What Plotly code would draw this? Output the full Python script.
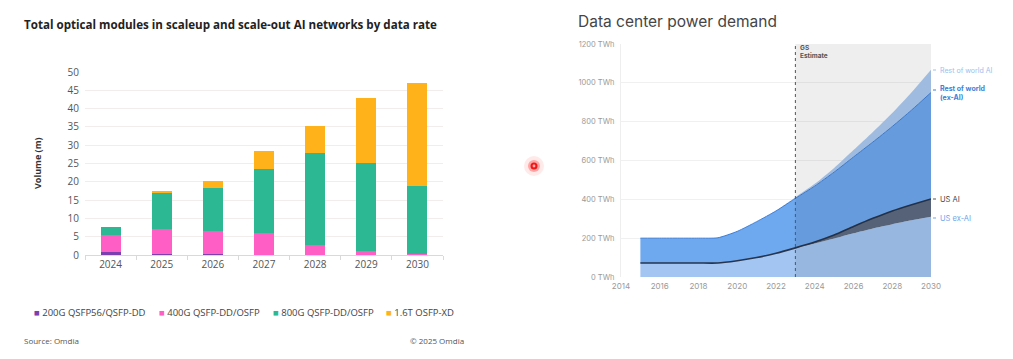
import plotly.graph_objects as go

W, H = 1013, 359
OFF = 8  # page body margin offset in the rendered page

# ---------------- Left chart data ----------------
years_mod = ["2024", "2025", "2026", "2027", "2028", "2029", "2030"]
g200 = [0.7, 0.4, 0.2, 0.1, 0.0, 0.0, 0.0]
g400 = [4.9, 6.6, 6.4, 5.8, 2.7, 1.0, 0.3]
g800 = [2.1, 10.0, 11.8, 17.7, 25.3, 24.2, 18.6]
t16 = [0.0, 0.5, 1.8, 4.9, 7.2, 17.6, 28.0]
mod_names = ["200G QSFP56/QSFP-DD", "400G QSFP-DD/OSFP", "800G QSFP-DD/OSFP", "1.6T OSFP-XD"]
mod_colors = ["#7B3FB0", "#FF5EC4", "#2DB894", "#FFB219"]
left_yticks = [0, 5, 10, 15, 20, 25, 30, 35, 40, 45, 50]

# ---------------- Right chart data ----------------
years_pw = list(range(2015, 2031))
us_exai = [72, 72, 72, 72, 72, 84, 100, 122, 148, 172, 198, 225, 250, 272, 292, 310]
us_ai = [0, 0, 0, 0, 0, 0, 0, 0, 2, 8, 18, 35, 52, 68, 80, 92]
row_exai = [128, 128, 128, 128, 130, 151, 185, 218, 255, 288, 324, 358, 393, 435, 488, 548]
row_ai = [0, 0, 0, 0, 0, 0, 0, 2, 6, 12, 22, 36, 52, 70, 92, 118]
pw_yticks = [0, 200, 400, 600, 800, 1000, 1200]
pw_ylabels = [f"{v} TWh" for v in pw_yticks]
pw_xticks = list(range(2014, 2031, 2))


def px(x):
    return (x - OFF) / W


def py(y):
    return 1 - (y - OFF) / H


fig = go.Figure()

left_font = "Open Sans"
right_font = "Inter"

for vals, name, col in zip([g200, g400, g800, t16], mod_names, mod_colors):
    fig.add_trace(go.Bar(x=years_mod, y=vals, name=name, marker=dict(color=col, line=dict(width=0)),
                         xaxis="x", yaxis="y", showlegend=False))

stack = [
    (us_exai, "US ex-AI", "#A2C5F2", 0, "#A2C5F2"),
    (us_ai, "US AI", "#5C6A80", 1.6, "#26344D"),
    (row_exai, "Rest of world (ex-AI)", "#6EA8EE", 1.0, "#3F7FD6"),
    (row_ai, "Rest of world AI", "#ABCAF0", 0, "#ABCAF0"),
]
for vals, name, fc, lw, lc in stack:
    fig.add_trace(go.Scatter(x=years_pw, y=vals, name=name, stackgroup="pw", mode="lines",
                             line=dict(width=lw, color=lc, shape="spline", smoothing=0.6), fillcolor=fc,
                             xaxis="x2", yaxis="y2", showlegend=False, hoverinfo="skip"))

fig.update_layout(
    width=W, height=H,
    margin=dict(l=0, r=0, t=0, b=0, autoexpand=False),
    paper_bgcolor="white", plot_bgcolor="white",
    barmode="stack", bargap=0.61,
    showlegend=False,
    xaxis=dict(domain=[px(85), px(443)], type="category", range=[-0.5, 6.5], automargin=False,
               showgrid=False, showline=True, linecolor="#D9D9D9", linewidth=1,
               ticks="outside", tickson="boundaries", ticklen=4, tickcolor="#D9D9D9",
               tickfont=dict(family=left_font, size=10, color="#555"), anchor="y"),
    yaxis=dict(domain=[py(255), py(72)], range=[0, 50], tickvals=left_yticks, automargin=False,
               showgrid=True, gridcolor="#F3ECEC", gridwidth=1, zeroline=False, ticklabelstandoff=5,
               tickfont=dict(family=left_font, size=10, color="#555"), ticks="", anchor="x"),
    xaxis2=dict(domain=[px(621), px(931)], range=[2014, 2030], tickvals=pw_xticks, automargin=False,
                showgrid=False, showline=False, zeroline=False, ticklabelstandoff=3,
                tickfont=dict(family=right_font, size=8, color="#9A9A9A"), anchor="y2"),
    yaxis2=dict(domain=[py(277), py(44)], range=[0, 1200], tickvals=pw_yticks, ticktext=pw_ylabels,
                automargin=False, ticklabelstandoff=4,
                showgrid=True, gridcolor="#F0F0F0", gridwidth=1, zeroline=False,
                showline=True, linecolor="#EEEEEE",
                tickfont=dict(family=right_font, size=7.5, color="#9A9A9A"), anchor="x2"),
)

shapes = [
    dict(type="rect", xref="x2", yref="y2", x0=2023, x1=2030, y0=0, y1=1200,
         fillcolor="rgba(0,0,0,0.065)", line=dict(width=0), layer="above"),
    dict(type="line", xref="x2", yref="y2", x0=2023, x1=2023, y0=0, y1=1200,
         line=dict(color="#555", width=1, dash="dot"), layer="above"),
    # red cursor dot
    dict(type="circle", xref="paper", yref="paper", x0=px(524), x1=px(544), y0=py(176), y1=py(156),
         fillcolor="rgba(255,80,80,0.12)", line=dict(width=0)),
    dict(type="circle", xref="paper", yref="paper", x0=px(528), x1=px(540), y0=py(172), y1=py(160),
         fillcolor="rgba(255,40,40,0.35)", line=dict(width=0)),
    dict(type="circle", xref="paper", yref="paper", x0=px(530.5), x1=px(537.5), y0=py(169.5), y1=py(162.5),
         fillcolor="#F01818", line=dict(width=0)),
    dict(type="circle", xref="paper", yref="paper", x0=px(532.6), x1=px(535.4), y0=py(167.4), y1=py(164.6),
         fillcolor="#FFB0B0", line=dict(width=0)),
]
# leader ticks for right labels
for yy, col in [(70, "#9CC0EE"), (90, "#3F7FD6"), (199, "#555"), (218, "#6FA3EA")]:
    shapes.append(dict(type="line", xref="paper", yref="paper", x0=px(933), x1=px(936), y0=py(yy), y1=py(yy),
                       line=dict(color=col, width=1)))
fig.update_layout(shapes=shapes)

ann = [
    dict(text="<b>Total optical modules in scaleup and scale-out AI networks by data rate</b>", x=px(22), y=py(25),
         xanchor="left", yanchor="middle", font=dict(family=left_font, size=11.6, color="#222")),
    dict(text="<b>Volume (m)</b>", x=px(38), y=py(163), textangle=-90, xanchor="center", yanchor="middle",
         font=dict(family=left_font, size=9, color="#333")),
    dict(text="Source: Omdia", x=px(22), y=py(340), xanchor="left", yanchor="middle",
         font=dict(family=left_font, size=8, color="#555")),
    dict(text="© 2025 Omdia", x=px(466), y=py(340), xanchor="right", yanchor="middle",
         font=dict(family=left_font, size=8, color="#555")),
    dict(text="Data center power demand", x=px(576), y=py(22), xanchor="left", yanchor="middle",
         font=dict(family=right_font, size=15.5, color="#454545")),
    dict(text="<b>GS<br>Estimate</b>", x=px(798), y=py(52), xanchor="left", yanchor="middle", align="left",
         font=dict(family=right_font, size=6.5, color="#555")),
    dict(text="Rest of world AI", x=px(938), y=py(70), xanchor="left", yanchor="middle",
         font=dict(family=right_font, size=7, color="#9CC0EE")),
    dict(text="<b>Rest of world<br>(ex-AI)</b>", x=px(938), y=py(93), xanchor="left", yanchor="middle", align="left",
         font=dict(family=right_font, size=7, color="#3F7FD6")),
    dict(text="US AI", x=px(938), y=py(199), xanchor="left", yanchor="middle",
         font=dict(family=right_font, size=7.5, color="#444")),
    dict(text="US ex-AI", x=px(938), y=py(218), xanchor="left", yanchor="middle",
         font=dict(family=right_font, size=7.5, color="#6FA3EA")),
]
# manual legend for the bar chart
leg_x = [32, 157, 271, 384]
for xx, name, col in zip(leg_x, mod_names, mod_colors):
    ann.append(dict(text=f"<span style='color:{col}'>■</span> {name}", x=px(xx), y=py(312),
                    xanchor="left", yanchor="middle",
                    font=dict(family=left_font, size=9.5, color="#444")))
for a in ann:
    a.update(xref="paper", yref="paper", showarrow=False)
fig.update_layout(annotations=ann)

fig.write_html("out.html")
